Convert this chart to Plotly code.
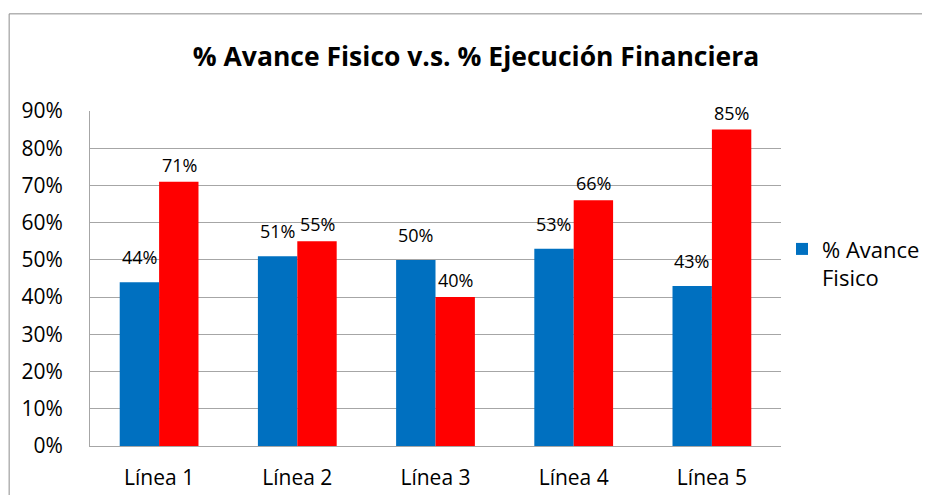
import plotly.graph_objects as go

# ─── Data ────────────────────────────────────────────────────────────────────

categories = ["Línea 1", "Línea 2", "Línea 3", "Línea 4", "Línea 5"]
avance_fisico = [0.44, 0.51, 0.50, 0.53, 0.43]
ejecucion_financiera = [0.71, 0.55, 0.40, 0.66, 0.85]
y_ticks = [0, 0.1, 0.2, 0.3, 0.4, 0.5, 0.6, 0.7, 0.8, 0.9]

FONT = "Open Sans, Noto Sans, sans-serif"
BLUE = "#0070C0"
RED = "#FF0000"
GRID = "#A6A6A6"

fig = go.Figure()
fig.add_trace(go.Bar(
    x=categories, y=avance_fisico,
    name="% Avance<br>Fisico",
    marker=dict(color=BLUE, line=dict(width=0)),
))
fig.add_trace(go.Bar(
    x=categories, y=ejecucion_financiera,
    name="% Ejecución Financiera",
    marker=dict(color=RED, line=dict(width=0)),
    showlegend=False,
))

# data labels above each bar (blue labels sit a bit higher, as in the original)
for xshift, yshift, series in ((-20, 11, avance_fisico), (20, 3, ejecucion_financiera)):
    for cat, val in zip(categories, series):
        fig.add_annotation(
            x=cat, y=val, text=f"{val:.0%}",
            xshift=xshift, yshift=yshift, yanchor="bottom",
            showarrow=False, font=dict(size=18, color="#000000"),
        )

# outer chart border (only left and top edges are in view)
border = dict(type="line", xref="paper", yref="paper",
              line=dict(color="#8C8C8C", width=1))
fig.add_shape(**border, x0=-0.117, x1=-0.117, y0=1.29, y1=-0.2)
fig.add_shape(**border, x0=-0.117, x1=1.25, y0=1.29, y1=1.29)

# page body adds ~8px margin, so the figure is 8px smaller than the window
fig.update_layout(
    width=922, height=487,
    margin=dict(l=82, r=149, t=103, b=49),
    paper_bgcolor="white", plot_bgcolor="white",
    font=dict(family=FONT, size=21, color="#000000"),
    title=dict(
        text="<b>% Avance Fisico v.s. % Ejecución Financiera</b>",
        x=0.5076, xanchor="center", y=0.899, yanchor="middle",
        font=dict(size=26.5),
    ),
    barmode="group", bargap=0.43, bargroupgap=0,
    legend=dict(
        xref="container", yref="container",
        x=0.8395, xanchor="left", y=0.548, yanchor="top", valign="top",
        font=dict(size=22),
    ),
    showlegend=True,
)
fig.update_yaxes(
    range=[0, 0.9], tickvals=y_ticks, tickformat=".0%",
    showgrid=True, gridcolor=GRID, gridwidth=1,
    showline=True, linecolor=GRID, linewidth=1,
    zeroline=False, ticks="", ticklabelstandoff=22, automargin=False,
)
fig.update_xaxes(
    showline=True, linecolor=GRID, linewidth=1,
    ticks="", ticklabelstandoff=13, automargin=False,
)

fig.write_html("out.html")
